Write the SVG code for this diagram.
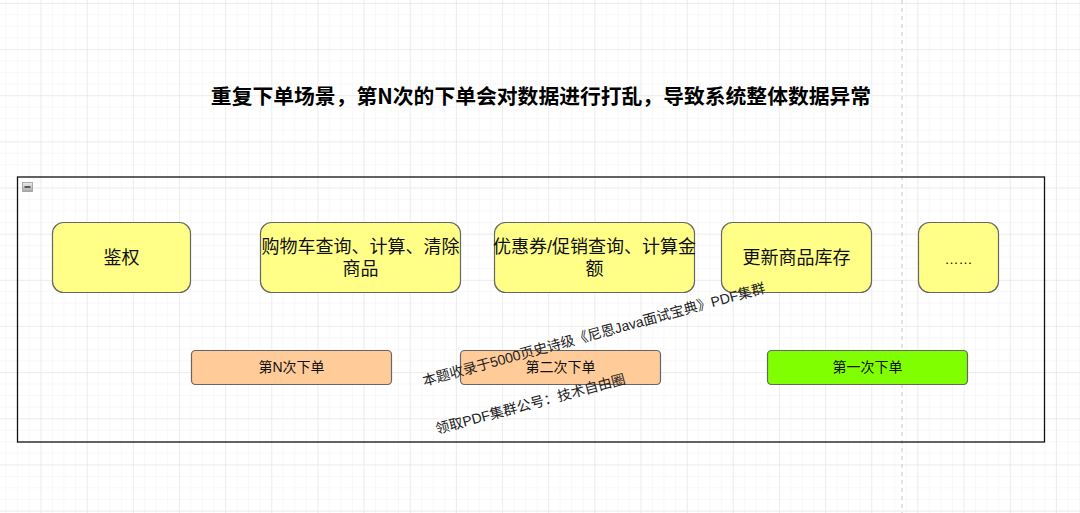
<svg xmlns="http://www.w3.org/2000/svg" width="1080" height="513" viewBox="0 0 1080 513">
<style>
.node rect{stroke:#666;stroke-width:1.2}
.y{fill:#ffff88}
.o{fill:#ffcc99}
.g{fill:#80ff00}
.t{font-family:"Liberation Sans","Noto Sans CJK SC",sans-serif;fill:#111;text-anchor:middle}
.big{font-size:18px}
.small{font-size:14px}
.wm{font-family:"Liberation Sans","Noto Sans CJK SC",sans-serif;font-size:14px;fill:#222}
</style>
<defs>
<pattern id="minor" patternUnits="userSpaceOnUse" x="5.7" y="2.7" width="11.54" height="11.54">
<path d="M0 0V11.54M0 0H11.54" fill="none" stroke="#f1f1f1" stroke-width="1"/>
</pattern>
<pattern id="major" patternUnits="userSpaceOnUse" x="40.6" y="3.0" width="46.15" height="46.15">
<path d="M0 0V46.15M0 0H46.15" fill="none" stroke="#e2e2e2" stroke-width="1"/>
</pattern>
<linearGradient id="ic" x1="0" y1="0" x2="0" y2="1">
<stop offset="0" stop-color="#eeeeee"/>
<stop offset="1" stop-color="#a8a8a8"/>
</linearGradient>
</defs>
<rect width="1080" height="513" fill="#ffffff"/>
<rect width="1080" height="513" fill="url(#minor)"/>
<rect width="1080" height="513" fill="url(#major)"/>
<line x1="902" y1="0" x2="902" y2="513" stroke="#c8c8c8" stroke-width="1" stroke-dasharray="4 4"/>

<g id="title">
<text x="541" y="104" font-family="'Noto Sans CJK SC','Liberation Sans',sans-serif" font-size="20.8" font-weight="bold" text-anchor="middle" fill="#000">重复下单场景，第N次的下单会对数据进行打乱，导致系统整体数据异常</text>
</g>

<g id="container">
<rect x="17.5" y="177" width="1027" height="265" fill="none" stroke="#111" stroke-width="1.3"/>
<rect x="22.5" y="182.5" width="10" height="9" fill="url(#ic)" stroke="#999" stroke-width="0.8"/>
<line x1="24.5" y1="187" x2="30.5" y2="187" stroke="#333" stroke-width="1.5"/>
</g>

<g id="node-auth" class="node">
<rect class="y" x="52.5" y="222.5" width="138" height="70" rx="11"/>
<text class="t big" x="121.5" y="264">鉴权</text>
</g>
<g id="node-cart" class="node">
<rect class="y" x="260.5" y="222.5" width="200" height="70" rx="11"/>
<text class="t big" x="360.5" y="253">购物车查询、计算、清除</text>
<text class="t big" x="360.5" y="275">商品</text>
</g>
<g id="node-coupon" class="node">
<rect class="y" x="494.5" y="222.5" width="200" height="70" rx="11"/>
<text class="t big" x="594.5" y="253">优惠券/促销查询、计算金</text>
<text class="t big" x="594.5" y="275">额</text>
</g>
<g id="node-stock" class="node">
<rect class="y" x="721.5" y="222.5" width="150" height="70" rx="11"/>
<text class="t big" x="796.5" y="264">更新商品库存</text>
</g>
<g id="node-more" class="node">
<rect class="y" x="918.5" y="222.5" width="80" height="70" rx="11"/>
<text class="t" font-size="14" x="958.5" y="264">……</text>
</g>

<g id="order-n" class="node">
<rect class="o" x="191.5" y="350.5" width="200" height="34" rx="4"/>
<text class="t small" x="291.5" y="372">第N次下单</text>
</g>
<g id="order-2" class="node">
<rect class="o" x="460.5" y="350.5" width="200" height="34" rx="4"/>
<text class="t small" x="560.5" y="372">第二次下单</text>
</g>
<g id="order-1" class="node">
<rect class="g" x="767.5" y="350.5" width="200" height="34" rx="4"/>
<text class="t small" x="867.5" y="372">第一次下单</text>
</g>

<g id="connectors"></g>

<g id="watermark">
<text class="wm" transform="translate(424,386) rotate(-15.3)">本题收录于5000页史诗级《尼恩Java面试宝典》PDF集群</text>
<text class="wm" transform="translate(437,434) rotate(-15)">领取PDF集群公号：技术自由圈</text>
</g>
</svg>
